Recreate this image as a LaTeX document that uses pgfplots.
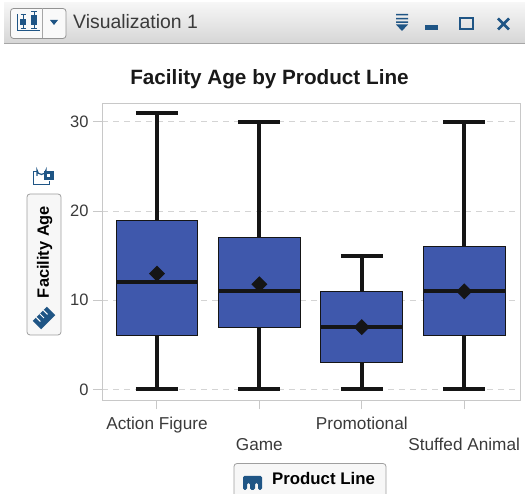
\documentclass[border=0pt]{standalone}
\usepackage{fontspec}
\setmainfont{Liberation Sans}
\usepackage{pgfplots}
\pgfplotsset{compat=1.18}
\usepgfplotslibrary{statistics}
\definecolor{boxblue}{HTML}{3F58AC}
\definecolor{ink}{HTML}{151515}
\definecolor{frameg}{HTML}{C8C8C8}
\definecolor{gridg}{HTML}{D4D4D4}
\definecolor{labelg}{HTML}{3A3A3A}
\definecolor{iconb}{HTML}{1F5585}
\newcommand{\fs}[1]{\fontsize{#1}{#1}\selectfont}
\pgfdeclareplotmark{bigdiamond}{%
  \pgfsetcolor{ink}%
  \pgfpathmoveto{\pgfpoint{0pt}{8pt}}%
  \pgfpathlineto{\pgfpoint{8pt}{0pt}}%
  \pgfpathlineto{\pgfpoint{0pt}{-8pt}}%
  \pgfpathlineto{\pgfpoint{-8pt}{0pt}}%
  \pgfpathclose
  \pgfusepathqfill}
\begin{document}
\begin{tikzpicture}[x=1pt,y=1pt]
\useasboundingbox (0,0) rectangle (525,494);
\begin{scope}[shift={(0,494)},y=-1pt]
% header band
\shade[top color=white!93!gray, bottom color=gray!32] (4,3) rectangle (525,43);
\draw[gray!70,line width=1pt] (4,43.5) -- (525,43.5);
\draw[gray!85,line width=0.8pt,rounded corners=3pt,fill=white!95!gray] (10.5,8.5) rectangle (66,38.5);
\draw[gray!70,line width=0.7pt] (42,8.5) -- (42,38.5);
% button glyph
\draw[iconb,line width=1pt] (17.5,14) -- (17.5,31) -- (40,31);
\draw[iconb,line width=1pt] (23,15) -- (23,29) (20.5,15) -- (25.5,15) (20.5,29) -- (25.5,29);
\fill[iconb] (20,19) rectangle (26,25);
\draw[iconb,line width=1pt] (34,12) -- (34,29) (31,12) -- (37,12) (31,29) -- (37,29);
\fill[iconb] (31,15.5) rectangle (37,25.5);
\fill[iconb] (50,20) -- (58,20) -- (54,25) -- cycle;
\node[anchor=west,inner sep=0,text=labelg] at (73,22) {\fs{19.4}Visualization 1};
% header right icons
\fill[iconb] (396,14) rectangle (408,15.4) (396,18) rectangle (408,19.4) (396,21.5) rectangle (408,22.9);
\fill[iconb] (396,24.5) -- (408,24.5) -- (402,31) -- cycle;
\fill[iconb] (425,25.5) rectangle (438,30);
\draw[iconb,line width=2pt] (460,18) rectangle (473,29.5);
\draw[iconb,line width=2.6pt] (498,18.5) -- (509,29.5) (509,18.5) -- (498,29.5);
% title
\node[anchor=base,inner sep=0,text=black!90] at (269.5,85) {\fs{20.7}\bfseries Facility Age by Product Line};
% y axis button
\draw[gray!75,line width=0.8pt,rounded corners=3pt,fill=white!94!gray] (27,194) rectangle (61,335);
\node[rotate=90,anchor=base,inner sep=0,text=black] at (49,252) {\fs{16.4}\bfseries Facility Age};
% lock icon
\draw[iconb,line width=1pt] (37,172) -- (33,172) -- (33,185) -- (49,185) -- (49,181);
\draw[iconb,line width=1.2pt] (37,176) -- (37,170) arc[start angle=180,end angle=0,radius=4.5] -- (46,172);
\fill[iconb] (43.5,171.5) rectangle (54,180.5);
\fill[white] (47,174.5) rectangle (50,177);
% ruler icon
\fill[iconb,rotate around={45:(44,318)}] (34,312) rectangle (54,324);
\draw[white,line width=1pt,rotate around={45:(44,318)}] (39,312) -- (39,318) (44,312) -- (44,318) (49,312) -- (49,318);
% x axis button
\draw[gray!75,line width=0.8pt,rounded corners=3pt,fill=white!94!gray] (234,500) -- (234,463.5) -- (386,463.5) -- (386,500);
\node[anchor=west,inner sep=0,text=black] at (272,479) {\fs{16.8}\bfseries Product Line};
\fill[iconb,rounded corners=1.5pt] (243,490) -- (243,476) -- (262,476) -- (262,490) -- (258,490) -- (258,483) -- (255,483) -- (255,490) -- (250,490) -- (250,483) -- (247,483) -- (247,490) -- cycle;
\end{scope}
\begin{axis}[
  at={(102pt,93.5pt)}, anchor=south west,
  scale only axis, width=418pt, height=297pt,
  xmin=-0.537, xmax=3.545, ymin=-1.233, ymax=32.07,
  axis line style={frameg,line width=1pt},
  xtick={0,1,2,3}, ytick={0,10,20,30},
  xticklabels={Action Figure,{\raisebox{-21.5pt}{Game}},Promotional,{\raisebox{-21.5pt}{Stuffed Animal}}},
  tick align=outside, tick pos=left,
  major tick length=9pt,
  tick style={frameg,line width=1pt},
  ymajorgrids,
  grid style={gridg,dash pattern=on 6pt off 5pt,line width=1pt},
  /pgf/number format/assume math mode=true,
  ticklabel style={text=labelg,font=\fs{16.5}},
  xticklabel style={anchor=base,yshift=-20pt,font=\fs{17.2}},
  yticklabel style={xshift=-1pt},
  boxplot/draw direction=y,
  boxplot/box extend=0.8,
  boxplot/whisker extend=0.41,
  boxplot/every box/.style={draw=ink,line width=1pt,fill=boxblue},
  boxplot/every whisker/.style={ink,line width=4pt},
  boxplot/every median/.style={ink,line width=4pt},
  boxplot/every average/.style={/tikz/mark=bigdiamond},
]
\addplot+[boxplot prepared={draw position=0,lower whisker=0,lower quartile=6,median=12,upper quartile=19,upper whisker=31,average=13},ink] coordinates {};
\addplot+[boxplot prepared={draw position=1,lower whisker=0,lower quartile=7,median=11,upper quartile=17,upper whisker=30,average=11.8},ink] coordinates {};
\addplot+[boxplot prepared={draw position=2,lower whisker=0,lower quartile=3,median=7,upper quartile=11,upper whisker=15,average=7},ink] coordinates {};
\addplot+[boxplot prepared={draw position=3,lower whisker=0,lower quartile=6,median=11,upper quartile=16,upper whisker=30,average=11},ink] coordinates {};
\end{axis}
\end{tikzpicture}
\end{document}
